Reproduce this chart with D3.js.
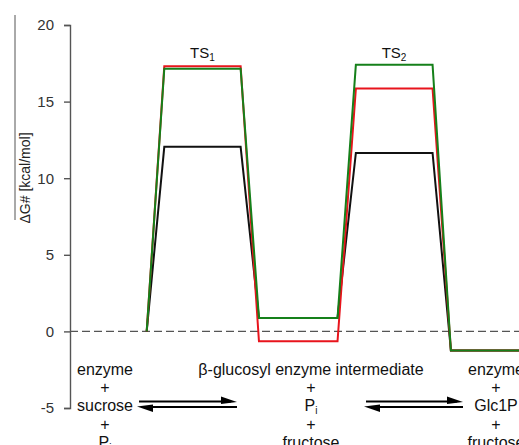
<!DOCTYPE html>
<html>
<head>
<meta charset="utf-8">
<script src="https://cdn.jsdelivr.net/npm/d3@7"></script>
<style>
  html, body { margin: 0; padding: 0; background: #fff; }
  svg { display: block; font-family: Arial, "Liberation Sans", sans-serif; }
</style>
</head>
<body>
<svg id="chart" width="519" height="445"></svg>
<script>
// ---- data ----
const coordX   = [2.05, 2.52, 4.56, 5.05, 7.15, 7.64, 9.69, 10.18, 12.0];
const blackDG  = [0, 12.05, 12.05, 0.88, 0.88, 11.65, 11.65, -1.25, -1.25];
const redDG    = [0, 17.3, 17.3, -0.65, -0.65, 15.85, 15.85, -1.25, -1.25];
const greenDG  = [0, 17.15, 17.15, 0.88, 0.88, 17.4, 17.4, -1.25, -1.25];
const yTicks   = [-5, 0, 5, 10, 15, 20];
const yTickLabels = ["-5", "0", "5", "10", "15", "20"];
const tsLabels = [{t: "TS", s: "1", x: 3.54}, {t: "TS", s: "2", x: 8.66}];
const leftSpecies  = ["enzyme", "+", "sucrose", "+", "P|i"];
const midSpecies   = ["β-glucosyl enzyme intermediate", "+", "P|i", "+", "fructose"];
const rightSpecies = ["enzyme", "+", "Glc1P", "+", "fructose"];

// ---- layout ----
const svg = d3.select("#chart");
const x = d3.scaleLinear().domain([0, 12]).range([70, 519]);
const y = d3.scaleLinear().domain([-5, 20]).range([408, 25]);

// y axis
const axis = d3.axisLeft(y).tickValues(yTicks)
  .tickFormat((d, i) => yTickLabels[i]).tickSize(6).tickPadding(10);
const gA = svg.append("g").attr("transform", `translate(${x(0)},0)`).call(axis);
gA.selectAll("path, line").attr("stroke", "#555").attr("stroke-width", 1.4);
gA.selectAll("text").attr("font-size", 15).attr("fill", "#333")
  .attr("font-family", "Arial, 'Liberation Sans', sans-serif");

// y label with overline artefact
svg.append("line").attr("x1", 15).attr("x2", 15).attr("y1", 15).attr("y2", 220)
  .attr("stroke", "#555").attr("stroke-width", 1);
svg.append("text").attr("transform", "translate(30,178) rotate(-90)")
  .attr("text-anchor", "middle").attr("font-size", 14).attr("fill", "#222")
  .text("ΔG# [kcal/mol]");

// zero dashed line
svg.append("line").attr("x1", x(0)).attr("x2", x(12)).attr("y1", y(0)).attr("y2", y(0))
  .attr("stroke", "#555").attr("stroke-width", 1.3).attr("stroke-dasharray", "8,4");

// profiles
const line = d3.line().x((d, i) => x(coordX[i])).y(d => y(d));
[[blackDG, "#111"], [redDG, "#e8141c"], [greenDG, "#15801a"]].forEach(([vals, col]) => {
  svg.append("path").attr("d", line(vals)).attr("fill", "none")
    .attr("stroke", col).attr("stroke-width", 2).attr("stroke-linejoin", "miter");
});

// TS labels
tsLabels.forEach(l => {
  const t = svg.append("text").attr("x", x(l.x)).attr("y", 58)
    .attr("text-anchor", "middle").attr("font-size", 15).attr("fill", "#111");
  t.append("tspan").text(l.t);
  t.append("tspan").attr("font-size", 10).attr("dy", 3).text(l.s);
});

// species columns
function column(items, cx) {
  items.forEach((s, i) => {
    const t = svg.append("text").attr("x", cx).attr("y", 375 + i * 18.2)
      .attr("text-anchor", "middle").attr("font-size", 16).attr("fill", "#111");
    if (s.includes("|")) {
      const [a, b] = s.split("|");
      t.append("tspan").text(a);
      t.append("tspan").attr("font-size", 10).attr("dy", 3).text(b);
    } else t.text(s);
  });
}
column(leftSpecies, 105);
column(midSpecies, 311);
column(rightSpecies, 496);

// equilibrium arrows
function eqArrows(x0, x1, yTop, yBot) {
  svg.append("line").attr("x1", x0).attr("x2", x1 - 6).attr("y1", yTop).attr("y2", yTop)
    .attr("stroke", "#000").attr("stroke-width", 2);
  svg.append("path").attr("d", `M${x1},${yTop + 0.5} L${x1 - 16},${yTop - 5} L${x1 - 16},${yTop + 2.5} Z`)
    .attr("fill", "#000");
  svg.append("line").attr("x1", x1).attr("x2", x0 + 6).attr("y1", yBot).attr("y2", yBot)
    .attr("stroke", "#000").attr("stroke-width", 2);
  svg.append("path").attr("d", `M${x0 - 2},${yBot - 0.5} L${x0 + 14},${yBot + 5} L${x0 + 14},${yBot - 2.5} Z`)
    .attr("fill", "#000");
}
eqArrows(139, 237, 401.5, 407);
eqArrows(366, 463, 401.5, 407);
</script>
</body>
</html>
